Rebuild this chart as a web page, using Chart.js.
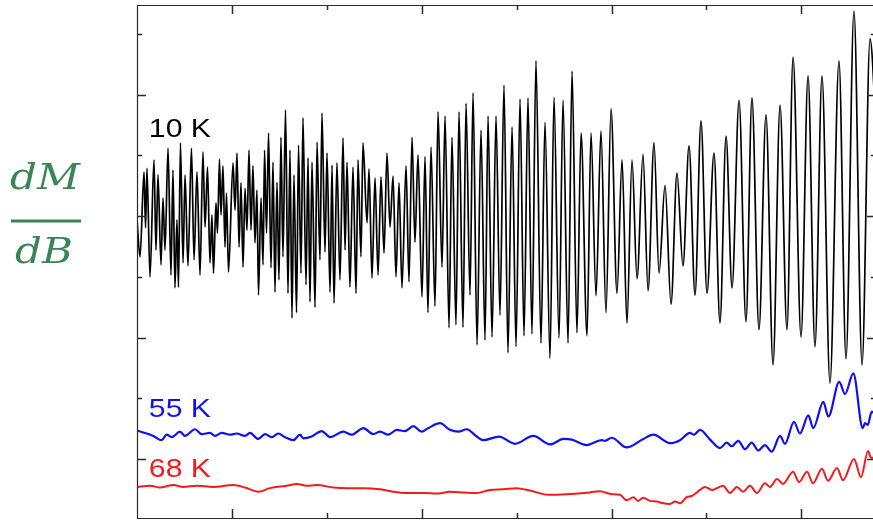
<!DOCTYPE html>
<html>
<head>
<meta charset="utf-8">
<script src="https://cdn.jsdelivr.net/npm/chart.js@4"></script>
<style>
  html, body { margin: 0; background: #fff; overflow: hidden; }
  #wrap { position: relative; width: 873px; height: 520px; overflow: hidden; }
  canvas { position: absolute; left: 0; top: 0; }
</style>
</head>
<body>
<div id="wrap"><canvas id="dmdb" width="880" height="520"></canvas></div>
<script>
// --- data: field (tick units) and dM/dB (arb. units) for each temperature ---

// 10 K: successive maxima / minima of the oscillation
const field10K = [
  0.000, 0.032, 0.074, 0.090, 0.105, 0.137, 0.179, 0.200, 0.221, 0.253,
  0.274, 0.295, 0.327, 0.358, 0.379, 0.400, 0.421, 0.437, 0.458, 0.485,
  0.506, 0.537, 0.574, 0.601, 0.632, 0.664, 0.695, 0.717, 0.743, 0.769,
  0.790, 0.806, 0.832, 0.848, 0.869, 0.885, 0.906, 0.927, 0.943, 0.964,
  1.012, 1.033, 1.054, 1.075, 1.096, 1.117, 1.138, 1.159, 1.180, 1.201,
  1.222, 1.243, 1.264, 1.280, 1.307, 1.328, 1.344, 1.365, 1.386, 1.412,
  1.433, 1.454, 1.475, 1.496, 1.517, 1.538, 1.565, 1.591, 1.612, 1.633,
  1.654, 1.681, 1.702, 1.728, 1.749, 1.781, 1.802, 1.823, 1.844, 1.876,
  1.897, 1.928, 1.949, 1.981, 2.002, 2.034, 2.055, 2.076, 2.107, 2.139,
  2.171, 2.192, 2.213, 2.244, 2.276, 2.308, 2.329, 2.360, 2.381, 2.424,
  2.445, 2.476, 2.508, 2.540, 2.571, 2.603, 2.634, 2.666, 2.698, 2.729,
  2.761, 2.792, 2.835, 2.866, 2.898, 2.929, 2.961, 3.003, 3.035, 3.066,
  3.098, 3.140, 3.172, 3.214, 3.246, 3.288, 3.319, 3.361, 3.393, 3.435,
  3.467, 3.509, 3.541, 3.583, 3.625, 3.667, 3.699, 3.741, 3.783, 3.825,
  3.867, 3.909, 3.952, 3.994, 4.036, 4.078, 4.120, 4.162, 4.204, 4.257,
  4.299, 4.352, 4.394, 4.447, 4.489, 4.542, 4.584, 4.636, 4.679, 4.742,
  4.784, 4.837, 4.889, 4.942, 4.995, 5.058, 5.111, 5.163, 5.216, 5.269,
  5.332, 5.385, 5.448, 5.501, 5.564, 5.627, 5.690, 5.753, 5.817, 5.880,
  5.943, 6.006, 6.080, 6.143, 6.207, 6.270, 6.344, 6.417, 6.480, 6.554,
  6.628, 6.702, 6.776, 6.849, 6.913, 6.997, 7.071, 7.144, 7.218, 7.302,
  7.397, 7.471, 7.555, 7.640, 7.724, 7.798
];
const signal10K = [
  3.94, 3.33, 4.73, 3.81, 4.79, 3.00, 4.93, 3.44, 4.68, 3.20,
  4.30, 3.44, 5.12, 3.03, 4.76, 2.82, 3.94, 2.83, 5.21, 3.23,
  4.68, 3.18, 5.12, 3.28, 4.73, 3.03, 5.06, 3.82, 4.81, 3.23,
  4.02, 3.06, 4.22, 3.72, 4.94, 4.02, 4.83, 3.49, 4.38, 3.08,
  4.88, 4.10, 5.04, 3.49, 4.55, 3.16, 4.46, 3.77, 5.09, 3.77,
  4.83, 3.56, 4.43, 2.70, 4.30, 3.20, 5.09, 3.72, 5.37, 3.15,
  4.89, 2.75, 4.56, 2.95, 5.30, 3.33, 5.75, 2.73, 5.09, 2.32,
  4.68, 2.41, 5.17, 3.06, 5.62, 2.87, 4.96, 2.59, 4.89, 2.50,
  5.22, 3.28, 5.70, 3.41, 5.04, 2.75, 4.84, 2.57, 4.88, 2.95,
  5.29, 3.44, 4.89, 2.83, 4.81, 2.73, 4.93, 3.33, 5.21, 3.89,
  4.78, 2.98, 4.63, 3.03, 4.65, 3.39, 5.04, 3.82, 4.66, 3.00,
  4.55, 2.82, 4.83, 2.92, 5.30, 3.57, 5.01, 2.67, 4.98, 2.41,
  5.14, 2.52, 5.72, 3.16, 5.65, 2.16, 5.30, 2.21, 5.72, 2.17,
  5.86, 2.70, 6.03, 1.88, 5.42, 1.96, 5.65, 2.01, 5.65, 2.37,
  6.16, 1.75, 5.47, 1.85, 5.93, 2.03, 5.95, 2.06, 6.56, 1.91,
  5.55, 1.66, 5.96, 1.99, 5.91, 1.91, 6.39, 2.08, 5.37, 2.03,
  5.37, 2.69, 5.40, 2.41, 5.77, 2.73, 4.93, 2.24, 4.93, 2.97,
  5.02, 2.77, 5.21, 3.06, 4.51, 2.55, 4.71, 3.18, 5.16, 2.70,
  5.57, 2.73, 5.04, 2.24, 5.32, 2.82, 5.91, 2.26, 5.95, 2.13,
  5.67, 1.55, 5.83, 2.13, 6.62, 2.01, 6.31, 1.85, 6.31, 1.25,
  6.56, 1.65, 7.38, 1.55, 6.92, 5.09
];

// 55 K
const field55K = [
  0.000, 0.102, 0.172, 0.260, 0.313, 0.366, 0.453, 0.506, 0.611, 0.682,
  0.769, 0.822, 0.893, 0.980, 1.051, 1.138, 1.191, 1.278, 1.349, 1.419,
  1.489, 1.560, 1.647, 1.718, 1.752, 1.841, 1.946, 2.034, 2.174, 2.262,
  2.385, 2.490, 2.561, 2.648, 2.737, 2.824, 2.912, 3.000, 3.070, 3.193,
  3.298, 3.386, 3.474, 3.580, 3.649, 3.815, 3.983, 4.176, 4.352, 4.492,
  4.581, 4.739, 4.897, 4.932, 5.002, 5.160, 5.335, 5.441, 5.616, 5.722,
  5.827, 5.869, 5.933, 6.038, 6.143, 6.214, 6.267, 6.336, 6.407, 6.477,
  6.547, 6.617, 6.688, 6.776, 6.828, 6.923, 6.986, 7.074, 7.126, 7.232,
  7.285, 7.400, 7.460, 7.548, 7.647, 7.671, 7.700, 7.742, 7.798
];
const signal55K = [
  0.47, 0.42, 0.38, 0.31, 0.40, 0.36, 0.45, 0.38, 0.49, 0.41,
  0.43, 0.38, 0.43, 0.40, 0.42, 0.38, 0.43, 0.33, 0.41, 0.36,
  0.42, 0.36, 0.31, 0.40, 0.34, 0.37, 0.46, 0.36, 0.45, 0.40,
  0.51, 0.41, 0.45, 0.40, 0.48, 0.46, 0.54, 0.45, 0.51, 0.59,
  0.48, 0.45, 0.49, 0.37, 0.31, 0.37, 0.25, 0.38, 0.24, 0.33,
  0.32, 0.23, 0.31, 0.30, 0.35, 0.19, 0.33, 0.40, 0.26, 0.31,
  0.43, 0.40, 0.48, 0.32, 0.18, 0.27, 0.21, 0.30, 0.16, 0.27,
  0.14, 0.23, 0.12, 0.38, 0.25, 0.61, 0.42, 0.72, 0.51, 0.94,
  0.70, 1.27, 1.07, 1.41, 0.51, 0.59, 0.56, 0.78, 0.68
];

// 68 K
const field68K = [
  0.000, 0.137, 0.242, 0.383, 0.488, 0.629, 0.804, 1.015, 1.138, 1.278,
  1.401, 1.577, 1.683, 1.788, 1.894, 2.069, 2.210, 2.385, 2.561, 2.701,
  2.842, 3.017, 3.158, 3.298, 3.438, 3.580, 3.720, 3.860, 4.001, 4.141,
  4.334, 4.528, 4.773, 4.879, 5.002, 5.090, 5.160, 5.230, 5.282, 5.335,
  5.406, 5.476, 5.546, 5.616, 5.669, 5.722, 5.792, 5.845, 5.933, 5.985,
  6.059, 6.112, 6.175, 6.249, 6.322, 6.386, 6.459, 6.533, 6.617, 6.670,
  6.744, 6.807, 6.913, 6.976, 7.060, 7.123, 7.218, 7.281, 7.376, 7.439,
  7.555, 7.629, 7.703, 7.735, 7.798
];
const signal68K = [
  -0.46, -0.44, -0.47, -0.43, -0.46, -0.44, -0.46, -0.43, -0.47, -0.54,
  -0.48, -0.44, -0.41, -0.44, -0.43, -0.47, -0.48, -0.48, -0.50, -0.54,
  -0.56, -0.56, -0.57, -0.54, -0.55, -0.56, -0.51, -0.50, -0.48, -0.52,
  -0.59, -0.58, -0.55, -0.53, -0.58, -0.59, -0.68, -0.63, -0.69, -0.64,
  -0.69, -0.70, -0.73, -0.74, -0.70, -0.73, -0.63, -0.61, -0.51, -0.46,
  -0.51, -0.48, -0.44, -0.56, -0.46, -0.54, -0.44, -0.56, -0.40, -0.46,
  -0.33, -0.41, -0.21, -0.38, -0.21, -0.40, -0.16, -0.36, -0.15, -0.35,
  0.00, -0.30, 0.13, 0.02, 0.02
];

const seriesNames = ['10 K', '55 K', '68 K'];
const seriesColors = ['#000000', '#1010f2', '#f21a1a'];

// axis ticks (no tick labels are drawn)
const xMajorTicks = [1, 3, 5, 7];
const xMinorTicks = [2, 4, 6];
const yMajorTicks = [0, 2, 4, 6];
const yMinorTicks = [1, 3, 5, 7];

function toPoints(xs, ys) {
    return xs.map((x, i) => ({ x: x, y: ys[i] }));
}

// frame with inward ticks, temperature labels and the dM/dB title
const framePlugin = {
    id: 'frame',
    afterDatasetsDraw(chart) {
        const ctx = chart.ctx;
        const a = chart.chartArea;
        const sx = chart.scales.x, sy = chart.scales.y;
        ctx.save();

        ctx.strokeStyle = '#2a2a2a';
        ctx.lineWidth = 1.2;
        ctx.beginPath();
        ctx.moveTo(a.left + 0.5, a.top + 0.5);
        ctx.lineTo(a.right, a.top + 0.5);
        ctx.moveTo(a.left + 0.5, a.top);
        ctx.lineTo(a.left + 0.5, a.bottom + 1);
        ctx.moveTo(a.left, a.bottom + 0.5);
        ctx.lineTo(a.right, a.bottom + 0.5);
        ctx.stroke();

        ctx.lineWidth = 1.5;
        ctx.beginPath();
        const xTick = (v, len) => {
            const p = Math.round(sx.getPixelForValue(v)) + 0.5;
            ctx.moveTo(p, a.top); ctx.lineTo(p, a.top + len);
            ctx.moveTo(p, a.bottom); ctx.lineTo(p, a.bottom - len);
        };
        const yTick = (v, len) => {
            const p = Math.round(sy.getPixelForValue(v)) + 0.5;
            ctx.moveTo(a.left, p); ctx.lineTo(a.left + len, p);
            ctx.moveTo(a.right, p); ctx.lineTo(a.right - len, p);
        };
        xMajorTicks.forEach(v => xTick(v, 9));
        xMinorTicks.forEach(v => xTick(v, 5));
        yMajorTicks.forEach(v => yTick(v, 9));
        yMinorTicks.forEach(v => yTick(v, 5));
        ctx.stroke();

        // temperature labels
        const labelY = [5.30, 0.69, -0.30];
        ctx.font = '26px "Liberation Sans", Arial, sans-serif';
        ctx.textBaseline = 'alphabetic';
        seriesNames.forEach((name, i) => {
            ctx.save();
            ctx.translate(sx.getPixelForValue(0.125), sy.getPixelForValue(labelY[i]));
            ctx.scale(1.16, 1);
            ctx.fillStyle = seriesColors[i];
            ctx.fillText(name, 0, 0);
            ctx.restore();
        });

        // y title as a fraction
        const green = '#3b8457';
        ctx.fillStyle = green;
        ctx.font = 'italic 35px "DejaVu Serif", serif';
        ctx.save();
        ctx.translate(10, 189);
        ctx.scale(1.2, 1);
        ctx.fillText('dM', 0, 0);
        ctx.restore();
        ctx.save();
        ctx.translate(15, 263);
        ctx.scale(1.2, 1);
        ctx.fillText('dB', 0, 0);
        ctx.restore();
        ctx.fillRect(11, 219.5, 70, 3);

        ctx.restore();
    }
};

const chart = new Chart(document.getElementById('dmdb'), {
    type: 'line',
    data: {
        datasets: [
            { label: seriesNames[0], data: toPoints(field10K, signal10K), borderColor: seriesColors[0], borderWidth: 1.7 },
            { label: seriesNames[1], data: toPoints(field55K, signal55K), borderColor: seriesColors[1], borderWidth: 2.2 },
            { label: seriesNames[2], data: toPoints(field68K, signal68K), borderColor: seriesColors[2], borderWidth: 2 }
        ]
    },
    options: {
        responsive: false,
        animation: false,
        layout: { padding: { left: 137, top: 5, right: 4, bottom: 2 } },
        elements: {
            point: { radius: 0 },
            line: { cubicInterpolationMode: 'monotone', fill: false }
        },
        plugins: { legend: { display: false }, tooltip: { enabled: false } },
        scales: {
            x: { type: 'linear', min: 0, max: 7.787, display: false },
            y: { type: 'linear', min: -0.972, max: 7.479, display: false }
        }
    },
    plugins: [framePlugin]
});
</script>
</body>
</html>
